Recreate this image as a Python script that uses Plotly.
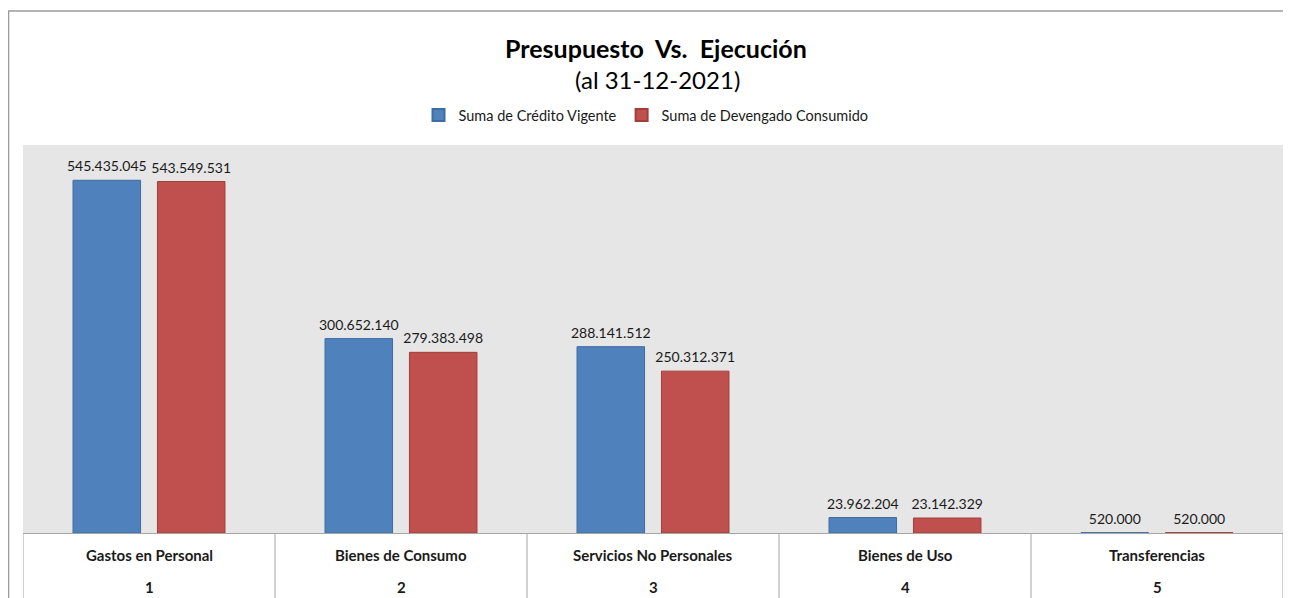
import plotly.graph_objects as go

categories = ["Gastos en Personal", "Bienes de Consumo", "Servicios No Personales", "Bienes de Uso", "Transferencias"]
codes = ["1", "2", "3", "4", "5"]
credito_vigente = [545435045, 300652140, 288141512, 23962204, 520000]
devengado_consumido = [543549531, 279383498, 250312371, 23142329, 520000]
series_names = ["Suma de Crédito Vigente", "Suma de Devengado Consumido"]

FONT = "Lato, 'Open Sans', sans-serif"
# page body has an 8px margin; figure occupies screen px 8..1291 x 8..598
OFF = 8
W, H = 1291 - OFF, 598 - OFF
# plot area in screen pixels: x 23..1283, y 145..533
SX0, SX1, SY0, SY1 = 23, 1283, 145, 533
L = SX0 - OFF
R = 1291 - SX1
T = SY0 - OFF
B = 598 - SY1
PW, PH = SX1 - SX0, SY1 - SY0

def px_x(p):
    return (p - SX0) / PW

def px_y(p):
    return (SY1 - p) / PH

colors = ["#4f81bd", "#c0504d"]
edges = ["#3f6c9f", "#a03e3b"]
values = [credito_vigente, devengado_consumido]

fig = go.Figure()
for i, (name, vals) in enumerate(zip(series_names, values)):
    fig.add_trace(go.Bar(
        x=categories, y=vals, name=name, offsetgroup=str(i),
        marker=dict(color=colors[i], line=dict(color=edges[i], width=1)),
    ))
for i, (name, vals) in enumerate(zip(series_names, values)):
    fig.add_trace(go.Scatter(
        x=categories, y=vals, name=name, offsetgroup=str(i), showlegend=False,
        mode="markers+text", marker=dict(size=7, opacity=0),
        texttemplate="%{y:,}", textposition="top center", cliponaxis=False,
        textfont=dict(family=FONT, size=14, color="#1a1a1a"),
        hoverinfo="skip",
    ))

shapes = []
# outer chart border (left and top)
shapes.append(dict(type="line", xref="paper", yref="paper",
                   x0=px_x(8.5), x1=px_x(8.5), y0=px_y(11), y1=px_y(610),
                   line=dict(color="#9a9a9a", width=1.5)))
shapes.append(dict(type="line", xref="paper", yref="paper",
                   x0=px_x(8), x1=px_x(1300), y0=px_y(11), y1=px_y(11),
                   line=dict(color="#9a9a9a", width=1.5)))
# category table vertical separators
for i in range(len(categories) + 1):
    shapes.append(dict(type="line", xref="x", yref="paper",
                       x0=i - 0.5, x1=i - 0.5, y0=0, y1=px_y(610),
                       line=dict(color="#a6a6a6", width=1)))

annotations = [
    dict(text="<b>Presupuesto\u00a0 Vs.\u00a0 Ejecución</b>", xref="paper", yref="paper",
         x=px_x(656), y=px_y(48), showarrow=False, xanchor="center", yanchor="middle",
         font=dict(family=FONT, size=25, color="#000000")),
    dict(text="(al 31-12-2021)", xref="paper", yref="paper",
         x=px_x(657), y=px_y(80), showarrow=False, xanchor="center", yanchor="middle",
         font=dict(family=FONT, size=24, color="#000000")),
]
for cat, code in zip(categories, codes):
    annotations.append(dict(text="<b>" + cat + "</b>", xref="x", yref="paper",
                            x=cat, y=px_y(555), showarrow=False,
                            xanchor="center", yanchor="middle",
                            font=dict(family=FONT, size=15, color="#1a1a1a")))
    annotations.append(dict(text="<b>" + code + "</b>", xref="x", yref="paper",
                            x=cat, y=px_y(587), showarrow=False,
                            xanchor="center", yanchor="middle",
                            font=dict(family=FONT, size=15, color="#1a1a1a")))

fig.update_layout(
    width=W, height=H,
    margin=dict(l=L, r=R, t=T, b=B, pad=0),
    paper_bgcolor="white",
    plot_bgcolor="#e6e6e6",
    separators=",.",
    barmode="group",
    bargap=0.33,
    bargroupgap=0.2,
    scattermode="group",
    scattergap=0.33,
    showlegend=True,
    legend=dict(orientation="h", x=px_x(646), y=px_y(115), xanchor="center", yanchor="middle",
                font=dict(family=FONT, size=14.5, color="#1a1a1a"),
                itemwidth=30, itemsizing="constant", tracegroupgap=0,
                bgcolor="rgba(0,0,0,0)"),
    xaxis=dict(showticklabels=False, ticks="", showgrid=False, zeroline=False,
               showline=True, linecolor="#a6a6a6", linewidth=1,
               range=[-0.5, len(categories) - 0.5]),
    yaxis=dict(range=[0, 600000000], showticklabels=False, showgrid=False,
               zeroline=False, ticks=""),
    shapes=shapes,
    annotations=annotations,
)

fig.write_html("out.html")
